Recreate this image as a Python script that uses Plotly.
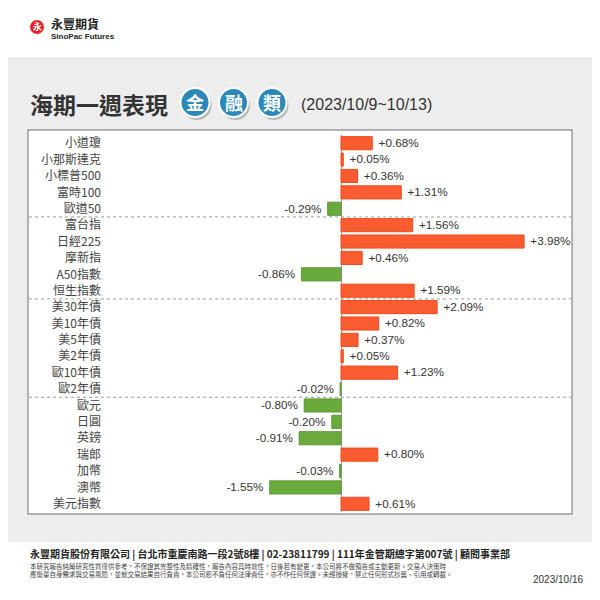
import plotly.graph_objects as go

categories = ["小道瓊", "小那斯達克", "小標普500", "富時100", "歐道50",
              "富台指", "日經225", "摩新指", "A50指數", "恒生指數",
              "美30年債", "美10年債", "美5年債", "美2年債", "歐10年債", "歐2年債",
              "歐元", "日圓", "英鎊", "瑞郎", "加幣", "澳幣", "美元指數"]
values = [0.68, 0.05, 0.36, 1.31, -0.29,
          1.56, 3.98, 0.46, -0.86, 1.59,
          2.09, 0.82, 0.37, 0.05, 1.23, -0.02,
          -0.80, -0.20, -0.91, 0.80, -0.03, -1.55, 0.61]
group_breaks = [4.5, 9.5, 15.5]
badge_chars = ["金", "融", "類"]

# page is offset by the default 8px body margin
OFF = 8
W, H = 600, 600
PL, PR, PT, PB = 105, 572, 135, 512      # plot area in page pixels
L = PL - OFF
T = PT - OFF
PW = PR - PL
PH = PB - PT
R = W - L - PW
B = H - T - PH

def px(x):
    return (x - PL) / PW

def py(y):
    return (PB - y) / PH

FONT = "Liberation Sans, Arial, Noto Sans CJK TC, sans-serif"
CJK = "Noto Sans CJK TC, Liberation Sans, sans-serif"
NB = "\u00a0"

colors = ["#f95c30" if v >= 0 else "#6aaa3c" for v in values]
lines = ["#ef4a1c" if v >= 0 else "#5c9a32" for v in values]
texts = [(NB + "+%.2f%%" % v) if v >= 0 else ("%.2f%%" % v + NB) for v in values]

fig = go.Figure(go.Bar(
    x=values, y=categories, orientation="h",
    marker=dict(color=colors, line=dict(color=lines, width=1)),
    width=0.8,
    text=texts, textposition="outside",
    textfont=dict(family=FONT, size=12.5, color="#333333"),
    cliponaxis=False, hoverinfo="skip",
))

shapes = []
shapes.append(dict(type="rect", xref="paper", yref="paper", layer="below",
                   x0=px(0), x1=px(620), y0=py(542), y1=py(57),
                   fillcolor="#ededed", line=dict(width=0)))
shapes.append(dict(type="rect", xref="paper", yref="paper", layer="below",
                   x0=px(28), x1=px(572), y0=py(514), y1=py(130),
                   fillcolor="#ffffff", line=dict(color="#9a9a9a", width=1.5)))
for yb in group_breaks:
    shapes.append(dict(type="line", xref="paper", yref="y",
                       x0=px(29), x1=px(571), y0=yb, y1=yb,
                       line=dict(color="#9a9a9a", width=1, dash="dot")))
for i, ch in enumerate(badge_chars):
    cx, cy, r = 195 + i * 38.5, 102.5, 14.5
    shapes.append(dict(type="circle", xref="paper", yref="paper",
                       x0=px(cx - r + 2), x1=px(cx + r + 2), y0=py(cy + r + 3), y1=py(cy - r + 3),
                       fillcolor="#b9b9b9", line=dict(width=0)))
    shapes.append(dict(type="circle", xref="paper", yref="paper",
                       x0=px(cx - r), x1=px(cx + r), y0=py(cy + r), y1=py(cy - r),
                       fillcolor="#2d88ba", line=dict(color="#ffffff", width=2)))
shapes.append(dict(type="circle", xref="paper", yref="paper",
                   x0=px(30), x1=px(44), y0=py(34), y1=py(20),
                   fillcolor="#e8252a", line=dict(width=0)))

ann = []
for i, ch in enumerate(badge_chars):
    cx, cy = 195 + i * 38.5, 102.5
    ann.append(dict(x=px(cx), y=py(cy), xref="paper", yref="paper", text="<b>%s</b>" % ch,
                    showarrow=False, xanchor="center", yanchor="middle",
                    font=dict(family=CJK, size=18, color="#ffffff")))
ann.append(dict(x=px(28), y=py(104), xref="paper", yref="paper", text="<b>海期一週表現</b>",
                showarrow=False, xanchor="left", yanchor="middle",
                font=dict(family=CJK, size=23, color="#333333")))
ann.append(dict(x=px(299), y=py(105), xref="paper", yref="paper", text="(2023/10/9~10/13)",
                showarrow=False, xanchor="left", yanchor="middle",
                font=dict(family=FONT, size=16, color="#333333")))
ann.append(dict(x=px(37), y=py(27), xref="paper", yref="paper", text="<b>永</b>",
                showarrow=False, xanchor="center", yanchor="middle",
                font=dict(family=CJK, size=9, color="#ffffff")))
ann.append(dict(x=px(49), y=py(24), xref="paper", yref="paper", text="<b>永豐期貨</b>",
                showarrow=False, xanchor="left", yanchor="middle",
                font=dict(family=CJK, size=12, color="#222222")))
ann.append(dict(x=px(49), y=py(37), xref="paper", yref="paper", text="<b>SinoPac Futures</b>",
                showarrow=False, xanchor="left", yanchor="middle",
                font=dict(family=FONT, size=8, color="#222222")))
ann.append(dict(x=px(28), y=py(553), xref="paper", yref="paper",
                text="<b>永豐期貨股份有限公司 | 台北市重慶南路一段2號8樓 | 02-23811799 | 111年金管期總字第007號 | 顧問事業部</b>",
                showarrow=False, xanchor="left", yanchor="middle",
                font=dict(family=CJK, size=10, color="#222222")))
ann.append(dict(x=px(28), y=py(570), xref="paper", yref="paper",
                text="本研究報告純屬研究性質僅供參考，不保證其完整性及精確性，報告內容具時效性，日後若有變更，本公司將不做預告或主動更新。交易人決策時<br>"
                     "應衡量自身需求與交易風險，並就交易結果自行負責，本公司恕不負任何法律責任，亦不作任何保證。未經授權，禁止任何形式抄襲、引用或轉載。",
                showarrow=False, xanchor="left", yanchor="middle", align="left",
                font=dict(family=CJK, size=6.5, color="#444444")))
ann.append(dict(x=px(585), y=py(579), xref="paper", yref="paper", text="2023/10/16",
                showarrow=False, xanchor="right", yanchor="middle",
                font=dict(family=FONT, size=10, color="#333333")))

fig.update_layout(
    width=W, height=H,
    margin=dict(l=L, r=R, t=T, b=B, autoexpand=False),
    paper_bgcolor="#ffffff", plot_bgcolor="rgba(0,0,0,0)",
    showlegend=False, bargap=0.2,
    shapes=shapes, annotations=ann,
    xaxis=dict(range=[(PL - 341) / 46.0, (PR - 341) / 46.0], showgrid=False,
               showticklabels=False, zeroline=True, zerolinecolor="#9a9a9a",
               zerolinewidth=1, fixedrange=True),
    yaxis=dict(type="category", categoryorder="array", categoryarray=categories,
               autorange="reversed", showgrid=False, zeroline=False, ticks="",
               ticklabelstandoff=3,
               tickfont=dict(family=CJK, size=12, color="#444444"), fixedrange=True),
)

fig.write_html("out.html")
